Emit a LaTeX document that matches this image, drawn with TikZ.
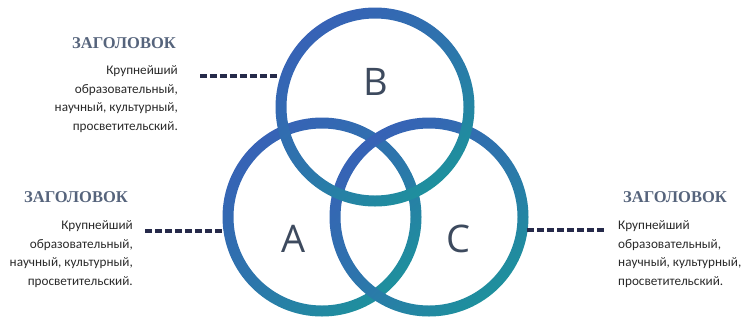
\documentclass[tikz,border=0pt]{standalone}
\usepackage{fontspec}
\setmainfont{Liberation Serif}
\newfontfamily\bodyfont{Carlito}
\newfontfamily\letterfont{Open Sans}
\definecolor{ringblue}{HTML}{3762B6}
\definecolor{ringteal}{HTML}{1E909D}
\definecolor{headcol}{HTML}{56647C}
\definecolor{bodycol}{HTML}{2A2A2A}
\definecolor{dashcol}{HTML}{262A4A}
\definecolor{lettercol}{HTML}{3D4A5E}
\tikzset{
  ring/.style={even odd rule, top color=ringblue, bottom color=ringteal,
    middle color=ringblue!60!ringteal, shading angle=40},
  heading/.style={font=\fontsize{16.5}{18}\selectfont\bfseries, text=headcol, inner sep=0pt},
  body/.style={font=\bodyfont\fontsize{13.2}{18.5}\selectfont, text=bodycol, inner sep=0pt},
  bigletter/.style={font=\letterfont\fontsize{38}{40}\selectfont, text=lettercol, inner sep=0pt},
  leader/.style={draw=dashcol, line width=3.4pt, dash pattern=on 6.5pt off 3.5pt},
}
\begin{document}
\begin{tikzpicture}[x=1pt,y=-1pt]
\useasboundingbox (0,0) rectangle (743,322);
% rings
\coordinate (cA) at (322,217);
\coordinate (cC) at (429,217);
\coordinate (cB) at (375,107);
\shade[ring] (cA) circle (99.5) (cA) circle (88.5);
\shade[ring] (cC) circle (99.5) (cC) circle (88.5);
\shade[ring] (cB) circle (99.5) (cB) circle (88.5);
% letters
\node[bigletter, anchor=base] (lB) at (376,95) {B};
\node[bigletter, anchor=base] (lA) at (294,252) {A};
\node[bigletter, anchor=base] (lC) at (458,252) {C};
% top-left text
\node[heading, anchor=base east] (h1) at (176,48) {ЗАГОЛОВОК};
\node[body, anchor=base east, align=right] (t1) at (178,130)
  {Крупнейший\\образовательный,\\научный, культурный,\\просветительский.};
% bottom-left text
\node[heading, anchor=base east] (h2) at (128,202) {ЗАГОЛОВОК};
\node[body, anchor=base east, align=right] (t2) at (133,285)
  {Крупнейший\\образовательный,\\научный, культурный,\\просветительский.};
% right text
\node[heading, anchor=base west] (h3) at (623,202) {ЗАГОЛОВОК};
\node[body, anchor=base west, align=left] (t3) at (618,285)
  {Крупнейший\\образовательный,\\научный, культурный,\\просветительский.};
% leaders
\coordinate (d1s) at (200,76);
\coordinate (d1e) at (279,76);
\coordinate (d2s) at (145,231);
\coordinate (d2e) at (225,231);
\coordinate (d3s) at (527,230);
\coordinate (d3e) at (604,230);
\draw[leader] (d1s) -- (d1e);
\draw[leader] (d2s) -- (d2e);
\draw[leader] (d3s) -- (d3e);
\end{tikzpicture}
\end{document}
